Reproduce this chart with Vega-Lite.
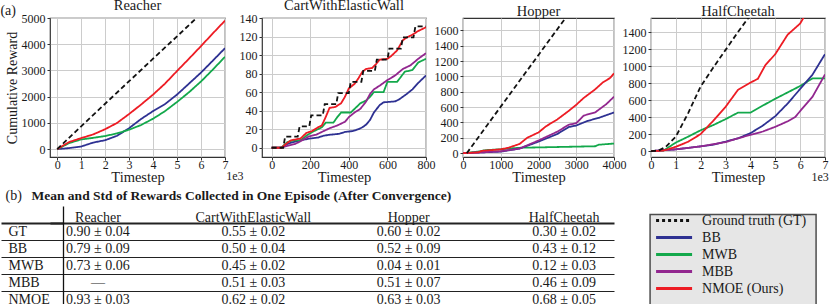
{
  "$schema": "https://vega.github.io/schema/vega-lite/v6.json",
  "padding": {"top": -4, "left": 0, "right": 0, "bottom": 0},
  "background": "white",
  "config": {
    "font": "Liberation Serif",
    "view": {"stroke": "#333333", "strokeWidth": 1.2},
    "axis": {"labelFont": "Liberation Serif", "titleFont": "Liberation Serif", "labelFontSize": 12, "titleFontSize": 14.5, "titleFontWeight": "normal", "labelColor": "#1a1a1a", "titleColor": "#1a1a1a", "gridColor": "#cccccc", "gridWidth": 1, "ticks": true, "tickSize": 3, "tickColor": "#333333", "domain": false, "labelPadding": 2, "titlePadding": 2, "labelOverlap": false, "labelFlush": false},
    "axisX": {"labelPadding": -1, "titlePadding": 0},
    "title": {"font": "Liberation Serif", "fontSize": 14.5, "fontWeight": "normal", "color": "#1a1a1a", "offset": -1, "baseline": "bottom"},
    "text": {"font": "Liberation Serif", "color": "#1a1a1a"}
  },
  "datasets": {
    "reacher": [
      {"t":0,"r":0,"m":"BB"},{"t":0.5,"r":40,"m":"BB"},{"t":1,"r":100,"m":"BB"},{"t":1.5,"r":250,"m":"BB"},{"t":2,"r":340,"m":"BB"},{"t":2.5,"r":510,"m":"BB"},{"t":3,"r":800,"m":"BB"},{"t":3.5,"r":1150,"m":"BB"},{"t":4,"r":1450,"m":"BB"},{"t":4.5,"r":1720,"m":"BB"},{"t":5,"r":2080,"m":"BB"},{"t":5.5,"r":2500,"m":"BB"},{"t":6,"r":2920,"m":"BB"},{"t":6.5,"r":3380,"m":"BB"},{"t":7,"r":3850,"m":"BB"},
      {"t":0,"r":0,"m":"MWB"},{"t":0.5,"r":230,"m":"MWB"},{"t":1,"r":370,"m":"MWB"},{"t":1.5,"r":430,"m":"MWB"},{"t":2,"r":500,"m":"MWB"},{"t":2.5,"r":600,"m":"MWB"},{"t":3,"r":740,"m":"MWB"},{"t":3.5,"r":920,"m":"MWB"},{"t":4,"r":1160,"m":"MWB"},{"t":4.5,"r":1450,"m":"MWB"},{"t":5,"r":1800,"m":"MWB"},{"t":5.5,"r":2170,"m":"MWB"},{"t":6,"r":2580,"m":"MWB"},{"t":6.5,"r":3040,"m":"MWB"},{"t":7,"r":3520,"m":"MWB"},
      {"t":0,"r":0,"m":"NMOE"},{"t":0.5,"r":270,"m":"NMOE"},{"t":1,"r":420,"m":"NMOE"},{"t":1.5,"r":560,"m":"NMOE"},{"t":2,"r":760,"m":"NMOE"},{"t":2.5,"r":1000,"m":"NMOE"},{"t":3,"r":1340,"m":"NMOE"},{"t":3.5,"r":1700,"m":"NMOE"},{"t":4,"r":2080,"m":"NMOE"},{"t":4.5,"r":2500,"m":"NMOE"},{"t":5,"r":2980,"m":"NMOE"},{"t":5.5,"r":3450,"m":"NMOE"},{"t":6,"r":3930,"m":"NMOE"},{"t":6.5,"r":4420,"m":"NMOE"},{"t":7,"r":4900,"m":"NMOE"},
      {"t":0,"r":0,"m":"GT"},{"t":1,"r":870,"m":"GT"},{"t":2,"r":1730,"m":"GT"},{"t":3,"r":2590,"m":"GT"},{"t":4,"r":3450,"m":"GT"},{"t":5,"r":4300,"m":"GT"},{"t":5.75,"r":4950,"m":"GT"}
    ],
    "cart": [
      {"t":0,"r":0,"m":"BB"},{"t":50,"r":0,"m":"BB"},{"t":80,"r":4,"m":"BB"},{"t":110,"r":6,"m":"BB"},{"t":150,"r":8,"m":"BB"},{"t":200,"r":10,"m":"BB"},{"t":240,"r":11,"m":"BB"},{"t":270,"r":13,"m":"BB"},{"t":300,"r":14,"m":"BB"},{"t":350,"r":15,"m":"BB"},{"t":380,"r":17,"m":"BB"},{"t":420,"r":18,"m":"BB"},{"t":450,"r":20,"m":"BB"},{"t":470,"r":22,"m":"BB"},{"t":490,"r":25,"m":"BB"},{"t":510,"r":30,"m":"BB"},{"t":530,"r":38,"m":"BB"},{"t":560,"r":46,"m":"BB"},{"t":580,"r":49,"m":"BB"},{"t":640,"r":50,"m":"BB"},{"t":660,"r":52,"m":"BB"},{"t":680,"r":55,"m":"BB"},{"t":700,"r":58,"m":"BB"},{"t":730,"r":63,"m":"BB"},{"t":760,"r":70,"m":"BB"},{"t":800,"r":78,"m":"BB"},
      {"t":0,"r":0,"m":"MWB"},{"t":50,"r":0,"m":"MWB"},{"t":80,"r":6,"m":"MWB"},{"t":110,"r":8,"m":"MWB"},{"t":150,"r":8,"m":"MWB"},{"t":180,"r":13,"m":"MWB"},{"t":210,"r":17,"m":"MWB"},{"t":240,"r":20,"m":"MWB"},{"t":260,"r":22,"m":"MWB"},{"t":280,"r":27,"m":"MWB"},{"t":320,"r":27,"m":"MWB"},{"t":340,"r":33,"m":"MWB"},{"t":360,"r":38,"m":"MWB"},{"t":410,"r":38,"m":"MWB"},{"t":430,"r":42,"m":"MWB"},{"t":460,"r":48,"m":"MWB"},{"t":490,"r":51,"m":"MWB"},{"t":510,"r":55,"m":"MWB"},{"t":530,"r":60,"m":"MWB"},{"t":580,"r":60,"m":"MWB"},{"t":600,"r":71,"m":"MWB"},{"t":650,"r":71,"m":"MWB"},{"t":690,"r":82,"m":"MWB"},{"t":730,"r":84,"m":"MWB"},{"t":760,"r":92,"m":"MWB"},{"t":800,"r":96,"m":"MWB"},
      {"t":0,"r":0,"m":"MBB"},{"t":50,"r":0,"m":"MBB"},{"t":80,"r":2,"m":"MBB"},{"t":120,"r":4,"m":"MBB"},{"t":150,"r":7,"m":"MBB"},{"t":190,"r":12,"m":"MBB"},{"t":230,"r":14,"m":"MBB"},{"t":260,"r":17,"m":"MBB"},{"t":300,"r":21,"m":"MBB"},{"t":340,"r":24,"m":"MBB"},{"t":380,"r":28,"m":"MBB"},{"t":400,"r":33,"m":"MBB"},{"t":430,"r":38,"m":"MBB"},{"t":460,"r":42,"m":"MBB"},{"t":490,"r":50,"m":"MBB"},{"t":510,"r":58,"m":"MBB"},{"t":530,"r":63,"m":"MBB"},{"t":560,"r":67,"m":"MBB"},{"t":600,"r":73,"m":"MBB"},{"t":640,"r":78,"m":"MBB"},{"t":680,"r":85,"m":"MBB"},{"t":720,"r":89,"m":"MBB"},{"t":760,"r":96,"m":"MBB"},{"t":800,"r":102,"m":"MBB"},
      {"t":0,"r":0,"m":"NMOE"},{"t":50,"r":0,"m":"NMOE"},{"t":80,"r":5,"m":"NMOE"},{"t":100,"r":8,"m":"NMOE"},{"t":150,"r":10,"m":"NMOE"},{"t":180,"r":16,"m":"NMOE"},{"t":210,"r":18,"m":"NMOE"},{"t":240,"r":22,"m":"NMOE"},{"t":260,"r":24,"m":"NMOE"},{"t":280,"r":33,"m":"NMOE"},{"t":300,"r":43,"m":"NMOE"},{"t":330,"r":44,"m":"NMOE"},{"t":360,"r":48,"m":"NMOE"},{"t":380,"r":55,"m":"NMOE"},{"t":400,"r":64,"m":"NMOE"},{"t":430,"r":69,"m":"NMOE"},{"t":450,"r":75,"m":"NMOE"},{"t":470,"r":82,"m":"NMOE"},{"t":490,"r":85,"m":"NMOE"},{"t":520,"r":86,"m":"NMOE"},{"t":540,"r":90,"m":"NMOE"},{"t":560,"r":95,"m":"NMOE"},{"t":600,"r":96,"m":"NMOE"},{"t":620,"r":99,"m":"NMOE"},{"t":650,"r":105,"m":"NMOE"},{"t":680,"r":116,"m":"NMOE"},{"t":700,"r":119,"m":"NMOE"},{"t":730,"r":122,"m":"NMOE"},{"t":760,"r":126,"m":"NMOE"},{"t":800,"r":130,"m":"NMOE"},
      {"t":0,"r":0,"m":"GT"},{"t":60,"r":0,"m":"GT"},{"t":70,"r":12,"m":"GT"},{"t":135,"r":12,"m":"GT"},{"t":145,"r":23,"m":"GT"},{"t":195,"r":23,"m":"GT"},{"t":205,"r":35,"m":"GT"},{"t":265,"r":35,"m":"GT"},{"t":275,"r":47,"m":"GT"},{"t":335,"r":47,"m":"GT"},{"t":345,"r":59,"m":"GT"},{"t":400,"r":59,"m":"GT"},{"t":410,"r":71,"m":"GT"},{"t":465,"r":71,"m":"GT"},{"t":475,"r":83,"m":"GT"},{"t":535,"r":83,"m":"GT"},{"t":545,"r":95,"m":"GT"},{"t":600,"r":95,"m":"GT"},{"t":610,"r":107,"m":"GT"},{"t":670,"r":107,"m":"GT"},{"t":680,"r":119,"m":"GT"},{"t":735,"r":119,"m":"GT"},{"t":745,"r":131,"m":"GT"},{"t":800,"r":131,"m":"GT"}
    ],
    "hopper": [
      {"t":0,"r":0,"m":"MWB"},{"t":400,"r":20,"m":"MWB"},{"t":600,"r":40,"m":"MWB"},{"t":1000,"r":50,"m":"MWB"},{"t":1200,"r":60,"m":"MWB"},{"t":1500,"r":70,"m":"MWB"},{"t":2000,"r":75,"m":"MWB"},{"t":2500,"r":80,"m":"MWB"},{"t":3000,"r":85,"m":"MWB"},{"t":3500,"r":90,"m":"MWB"},{"t":3600,"r":110,"m":"MWB"},{"t":4000,"r":125,"m":"MWB"},
      {"t":0,"r":0,"m":"BB"},{"t":500,"r":10,"m":"BB"},{"t":1000,"r":20,"m":"BB"},{"t":1500,"r":60,"m":"BB"},{"t":2000,"r":150,"m":"BB"},{"t":2500,"r":250,"m":"BB"},{"t":2800,"r":340,"m":"BB"},{"t":3000,"r":360,"m":"BB"},{"t":3300,"r":420,"m":"BB"},{"t":3600,"r":460,"m":"BB"},{"t":4000,"r":530,"m":"BB"},
      {"t":0,"r":0,"m":"MBB"},{"t":500,"r":10,"m":"MBB"},{"t":1000,"r":25,"m":"MBB"},{"t":1500,"r":60,"m":"MBB"},{"t":2000,"r":165,"m":"MBB"},{"t":2500,"r":280,"m":"MBB"},{"t":2800,"r":370,"m":"MBB"},{"t":3000,"r":390,"m":"MBB"},{"t":3200,"r":490,"m":"MBB"},{"t":3500,"r":530,"m":"MBB"},{"t":3800,"r":640,"m":"MBB"},{"t":4000,"r":735,"m":"MBB"},
      {"t":0,"r":0,"m":"NMOE"},{"t":400,"r":10,"m":"NMOE"},{"t":500,"r":30,"m":"NMOE"},{"t":1000,"r":50,"m":"NMOE"},{"t":1200,"r":70,"m":"NMOE"},{"t":1500,"r":120,"m":"NMOE"},{"t":1700,"r":200,"m":"NMOE"},{"t":2000,"r":270,"m":"NMOE"},{"t":2200,"r":350,"m":"NMOE"},{"t":2500,"r":440,"m":"NMOE"},{"t":2800,"r":550,"m":"NMOE"},{"t":3000,"r":630,"m":"NMOE"},{"t":3200,"r":720,"m":"NMOE"},{"t":3500,"r":830,"m":"NMOE"},{"t":3700,"r":920,"m":"NMOE"},{"t":3900,"r":980,"m":"NMOE"},{"t":4000,"r":1040,"m":"NMOE"},
      {"t":100,"r":0,"m":"GT"},{"t":1000,"r":606,"m":"GT"},{"t":2000,"r":1279,"m":"GT"},{"t":2800,"r":1817,"m":"GT"}
    ],
    "cheetah": [
      {"t":0,"r":0,"m":"MWB"},{"t":0.5,"r":5,"m":"MWB"},{"t":1,"r":100,"m":"MWB"},{"t":1.5,"r":170,"m":"MWB"},{"t":2,"r":245,"m":"MWB"},{"t":2.5,"r":305,"m":"MWB"},{"t":3,"r":375,"m":"MWB"},{"t":3.5,"r":452,"m":"MWB"},{"t":4,"r":452,"m":"MWB"},{"t":4.5,"r":535,"m":"MWB"},{"t":5,"r":615,"m":"MWB"},{"t":5.5,"r":690,"m":"MWB"},{"t":6,"r":765,"m":"MWB"},{"t":6.5,"r":855,"m":"MWB"},{"t":7,"r":855,"m":"MWB"},
      {"t":0,"r":0,"m":"BB"},{"t":1,"r":20,"m":"BB"},{"t":2,"r":55,"m":"BB"},{"t":2.5,"r":75,"m":"BB"},{"t":3,"r":110,"m":"BB"},{"t":3.5,"r":150,"m":"BB"},{"t":4,"r":210,"m":"BB"},{"t":4.5,"r":300,"m":"BB"},{"t":5,"r":410,"m":"BB"},{"t":5.5,"r":560,"m":"BB"},{"t":6,"r":730,"m":"BB"},{"t":6.5,"r":900,"m":"BB"},{"t":7,"r":1140,"m":"BB"},
      {"t":0,"r":0,"m":"MBB"},{"t":1,"r":20,"m":"MBB"},{"t":2,"r":55,"m":"MBB"},{"t":3,"r":105,"m":"MBB"},{"t":3.5,"r":150,"m":"MBB"},{"t":4,"r":190,"m":"MBB"},{"t":4.5,"r":230,"m":"MBB"},{"t":5,"r":285,"m":"MBB"},{"t":5.5,"r":350,"m":"MBB"},{"t":5.8,"r":400,"m":"MBB"},{"t":6,"r":470,"m":"MBB"},{"t":6.5,"r":640,"m":"MBB"},{"t":7,"r":900,"m":"MBB"},
      {"t":0,"r":0,"m":"NMOE"},{"t":0.5,"r":5,"m":"NMOE"},{"t":1,"r":50,"m":"NMOE"},{"t":1.5,"r":110,"m":"NMOE"},{"t":2,"r":200,"m":"NMOE"},{"t":2.5,"r":355,"m":"NMOE"},{"t":3,"r":520,"m":"NMOE"},{"t":3.5,"r":720,"m":"NMOE"},{"t":4,"r":805,"m":"NMOE"},{"t":4.3,"r":850,"m":"NMOE"},{"t":4.6,"r":1010,"m":"NMOE"},{"t":5,"r":1140,"m":"NMOE"},{"t":5.5,"r":1370,"m":"NMOE"},{"t":6,"r":1500,"m":"NMOE"},{"t":6.3,"r":1650,"m":"NMOE"},
      {"t":0,"r":0,"m":"GT"},{"t":0.3,"r":5,"m":"GT"},{"t":0.6,"r":50,"m":"GT"},{"t":1,"r":170,"m":"GT"},{"t":1.5,"r":450,"m":"GT"},{"t":2,"r":760,"m":"GT"},{"t":2.5,"r":980,"m":"GT"},{"t":3,"r":1190,"m":"GT"},{"t":3.5,"r":1400,"m":"GT"},{"t":4,"r":1600,"m":"GT"}
    ],
    "table": [
      {"row":"header","col":"Reacher","v":"Reacher"},{"row":"header","col":"CartWithElasticWall","v":"CartWithElasticWall"},{"row":"header","col":"Hopper","v":"Hopper"},{"row":"header","col":"HalfCheetah","v":"HalfCheetah"},
      {"row":"GT","col":"Reacher","v":"0.90 ± 0.04"},{"row":"GT","col":"CartWithElasticWall","v":"0.55 ± 0.02"},{"row":"GT","col":"Hopper","v":"0.60 ± 0.02"},{"row":"GT","col":"HalfCheetah","v":"0.30 ± 0.02"},
      {"row":"BB","col":"Reacher","v":"0.79 ± 0.09"},{"row":"BB","col":"CartWithElasticWall","v":"0.50 ± 0.04"},{"row":"BB","col":"Hopper","v":"0.52 ± 0.09"},{"row":"BB","col":"HalfCheetah","v":"0.43 ± 0.12"},
      {"row":"MWB","col":"Reacher","v":"0.73 ± 0.06"},{"row":"MWB","col":"CartWithElasticWall","v":"0.45 ± 0.02"},{"row":"MWB","col":"Hopper","v":"0.04 ± 0.01"},{"row":"MWB","col":"HalfCheetah","v":"0.12 ± 0.03"},
      {"row":"MBB","col":"Reacher","v":"—"},{"row":"MBB","col":"CartWithElasticWall","v":"0.51 ± 0.03"},{"row":"MBB","col":"Hopper","v":"0.51 ± 0.07"},{"row":"MBB","col":"HalfCheetah","v":"0.46 ± 0.09"},
      {"row":"NMOE","col":"Reacher","v":"0.93 ± 0.03"},{"row":"NMOE","col":"CartWithElasticWall","v":"0.62 ± 0.02"},{"row":"NMOE","col":"Hopper","v":"0.63 ± 0.03"},{"row":"NMOE","col":"HalfCheetah","v":"0.68 ± 0.05"}
    ],
    "legend": [
      {"row":"GT","label":"Ground truth (GT)"},{"row":"BB","label":"BB"},{"row":"MWB","label":"MWB"},{"row":"MBB","label":"MBB"},{"row":"NMOE","label":"NMOE (Ours)"}
    ],
    "legendbox": [{"top":"header","bottom":"NMOE","col":"HalfCheetah"}]
  },
  "vconcat": [
    {
      "title": {"text": "(a)", "anchor": "start", "frame": "bounds", "orient": "top", "offset": -21, "dx": -4, "fontSize": 14},
      "hconcat": [
        {
          "width": 175, "height": 139,
          "title": "Reacher",
          "layer": [
            {
              "data": {"name": "reacher"},
              "mark": {"type": "line", "strokeWidth": 1.8, "clip": true},
              "encoding": {
                "x": {"field": "t", "type": "quantitative", "scale": {"domain": [-0.3, 7], "nice": false, "zero": false}, "axis": {"values": [0,1,2,3,4,5,6,7], "format": "d", "title": "Timestep", "labelOverlap": false}},
                "y": {"field": "r", "type": "quantitative", "scale": {"domain": [-300, 5000], "nice": false, "zero": false}, "axis": {"values": [0,1000,2000,3000,4000,5000], "format": "d", "title": "Cumulative Reward", "titlePadding": 2, "titleFontSize": 14, "labelOverlap": false}},
                "color": {"field": "m", "type": "nominal", "scale": {"domain": ["GT","BB","MWB","MBB","NMOE"], "range": ["#111111","#2e3192","#13a84b","#92278f","#ed1c24"]}, "legend": null},
                "strokeDash": {"field": "m", "type": "nominal", "scale": {"domain": ["GT","BB","MWB","MBB","NMOE"], "range": [[5,3],[1,0],[1,0],[1,0],[1,0]]}, "legend": null}
              }
            },
            {
              "data": {"values": [{"label": "1e3"}]},
              "mark": {"type": "text", "fontSize": 12, "align": "left", "baseline": "middle"},
              "encoding": {
                "x": {"datum": 7.05, "type": "quantitative", "scale": {"domain": [-0.3, 7], "nice": false, "zero": false}, "axis": {"values": [0,1,2,3,4,5,6,7], "format": "d", "title": "Timestep", "labelOverlap": false}},
                "y": {"datum": -1030, "type": "quantitative", "scale": {"domain": [-300, 5000], "nice": false, "zero": false}, "axis": {"values": [0,1000,2000,3000,4000,5000], "format": "d", "title": "Cumulative Reward", "titlePadding": 2, "titleFontSize": 14, "labelOverlap": false}},
                "text": {"field": "label"}
              }
            }
          ]
        },
        {
          "width": 164, "height": 139,
          "title": "CartWithElasticWall",
          "data": {"name": "cart"},
          "mark": {"type": "line", "strokeWidth": 1.8, "clip": true},
          "encoding": {
            "x": {"field": "t", "type": "quantitative", "scale": {"domain": [-50, 800], "nice": false, "zero": false}, "axis": {"values": [0,200,400,600,800], "format": "d", "title": "Timestep"}},
            "y": {"field": "r", "type": "quantitative", "scale": {"domain": [-10, 140], "nice": false, "zero": false}, "axis": {"values": [0,20,40,60,80,100,120,140], "format": "d", "title": null}},
            "color": {"field": "m", "type": "nominal", "scale": {"domain": ["GT","BB","MWB","MBB","NMOE"], "range": ["#111111","#2e3192","#13a84b","#92278f","#ed1c24"]}, "legend": null},
            "strokeDash": {"field": "m", "type": "nominal", "scale": {"domain": ["GT","BB","MWB","MBB","NMOE"], "range": [[5,3],[1,0],[1,0],[1,0],[1,0]]}, "legend": null}
          }
        },
        {
          "width": 151, "height": 139,
          "title": "Hopper",
          "data": {"name": "hopper"},
          "mark": {"type": "line", "strokeWidth": 1.8, "clip": true},
          "encoding": {
            "x": {"field": "t", "type": "quantitative", "scale": {"domain": [0, 4000], "nice": false, "zero": false}, "axis": {"values": [0,1000,2000,3000,4000], "format": "d", "title": "Timestep"}},
            "y": {"field": "r", "type": "quantitative", "scale": {"domain": [-50, 1760], "nice": false, "zero": false}, "axis": {"values": [0,200,400,600,800,1000,1200,1400,1600], "format": "d", "title": null}},
            "color": {"field": "m", "type": "nominal", "scale": {"domain": ["GT","BB","MWB","MBB","NMOE"], "range": ["#111111","#2e3192","#13a84b","#92278f","#ed1c24"]}, "legend": null},
            "strokeDash": {"field": "m", "type": "nominal", "scale": {"domain": ["GT","BB","MWB","MBB","NMOE"], "range": [[5,3],[1,0],[1,0],[1,0],[1,0]]}, "legend": null}
          }
        },
        {
          "width": 174, "height": 139,
          "title": "HalfCheetah",
          "layer": [
            {
              "data": {"name": "cheetah"},
              "mark": {"type": "line", "strokeWidth": 1.8, "clip": true},
              "encoding": {
                "x": {"field": "t", "type": "quantitative", "scale": {"domain": [0, 7], "nice": false, "zero": false}, "axis": {"values": [0,1,2,3,4,5,6,7], "format": "d", "title": "Timestep", "labelOverlap": false}},
                "y": {"field": "r", "type": "quantitative", "scale": {"domain": [-70, 1565], "nice": false, "zero": false}, "axis": {"values": [0,200,400,600,800,1000,1200,1400], "format": "d", "title": null, "labelOverlap": false}},
                "color": {"field": "m", "type": "nominal", "scale": {"domain": ["GT","BB","MWB","MBB","NMOE"], "range": ["#111111","#2e3192","#13a84b","#92278f","#ed1c24"]}, "legend": null},
                "strokeDash": {"field": "m", "type": "nominal", "scale": {"domain": ["GT","BB","MWB","MBB","NMOE"], "range": [[5,3],[1,0],[1,0],[1,0],[1,0]]}, "legend": null}
              }
            },
            {
              "data": {"values": [{"label": "1e3"}]},
              "mark": {"type": "text", "fontSize": 12, "align": "right", "baseline": "middle"},
              "encoding": {
                "x": {"datum": 7.15, "type": "quantitative", "scale": {"domain": [0, 7], "nice": false, "zero": false}, "axis": {"values": [0,1,2,3,4,5,6,7], "format": "d", "title": "Timestep", "labelOverlap": false}},
                "y": {"datum": -300, "type": "quantitative", "scale": {"domain": [-70, 1565], "nice": false, "zero": false}, "axis": {"values": [0,200,400,600,800,1000,1200,1400], "format": "d", "title": null, "labelOverlap": false}},
                "text": {"field": "label"}
              }
            }
          ]
        }
      ],
      "bounds": "flush",
      "spacing": 37,
      "resolve": {"scale": {"x": "independent", "y": "independent", "color": "independent", "strokeDash": "independent"}}
    },
    {
      "width": 564, "height": 102,
      "view": {"stroke": null},
      "encoding": {
        "x": {"field": "col", "type": "nominal", "scale": {"type": "point", "domain": ["Reacher","CartWithElasticWall","Hopper","HalfCheetah"], "padding": 0.315, "align": 0.49},
          "axis": {"orient": "top", "labels": false, "ticks": false, "domain": false, "grid": false, "title": "Mean and Std of Rewards Collected in One Episode (After Convergence)", "titleFontWeight": "bold", "titleFontSize": 13.5, "titleX": -19, "titleY": -11, "titleAlign": "left", "titleBaseline": "middle", "titleAnchor": "start"}},
        "y": {"field": "row", "type": "nominal", "scale": {"type": "band", "domain": ["header","GT","BB","MWB","MBB","NMOE"], "paddingInner": 0, "paddingOuter": 0},
          "axis": {"orient": "left", "offset": -13, "domain": true, "domainColor": "#111111", "domainWidth": 1.3, "ticks": true, "tickSize": 62, "bandPosition": 0,
            "tickColor": {"condition": {"test": "datum.value === 'header'", "value": "transparent"}, "value": "#222222"},
            "tickWidth": {"condition": {"test": "datum.value === 'GT'", "value": 2}, "value": 1},
            "grid": true,
            "gridColor": {"condition": {"test": "datum.value === 'header'", "value": "transparent"}, "value": "#222222"},
            "gridWidth": {"condition": {"test": "datum.value === 'GT'", "value": 2}, "value": 1},
            "labelAlign": "left", "labelBaseline": "middle", "labelPadding": -7, "labelFontSize": 14, "labelColor": "#1a1a1a",
            "labelExpr": "datum.value === 'header' ? '' : datum.value",
            "title": "(b)", "titleAngle": 0, "titleX": -58, "titleY": -11, "titleAlign": "left", "titleBaseline": "middle", "titleFontSize": 14, "titlePadding": 0}}
      },
      "layer": [
        {
          "data": {"name": "table"},
          "transform": [{"filter": "datum.row !== 'header'"}],
          "mark": {"type": "text", "fontSize": 14, "baseline": "middle"},
          "encoding": {"text": {"field": "v"}}
        },
        {
          "data": {"name": "table"},
          "transform": [{"filter": "datum.row === 'header'"}],
          "mark": {"type": "text", "fontSize": 14, "baseline": "middle", "dy": 3.5},
          "encoding": {"text": {"field": "v"}}
        },
        {
          "data": {"name": "legendbox"},
          "mark": {"type": "rect", "fill": "#e6e6e6", "stroke": "#4d4d4d", "strokeWidth": 1.5, "xOffset": 86, "x2Offset": 252, "yOffset": 0, "y2Offset": 11},
          "encoding": {
            "y": {"field": "top"},
            "y2": {"field": "bottom"},
            "x2": {"field": "col"}
          }
        },
        {
          "data": {"name": "legend"},
          "transform": [{"calculate": "'HalfCheetah'", "as": "col"}],
          "mark": {"type": "rule", "strokeWidth": 3, "xOffset": 92, "x2Offset": 128, "yOffset": -11, "y2Offset": -11},
          "encoding": {
            "x2": {"field": "col"},
            "color": {"field": "row", "type": "nominal", "scale": {"domain": ["GT","BB","MWB","MBB","NMOE"], "range": ["#111111","#2e3192","#13a84b","#92278f","#ed1c24"]}, "legend": null},
            "strokeDash": {"field": "row", "type": "nominal", "scale": {"domain": ["GT","BB","MWB","MBB","NMOE"], "range": [[3,3],[1,0],[1,0],[1,0],[1,0]]}, "legend": null}
          }
        },
        {
          "data": {"name": "legend"},
          "transform": [{"calculate": "'HalfCheetah'", "as": "col"}],
          "mark": {"type": "text", "fontSize": 14, "align": "left", "baseline": "middle", "dx": 138, "dy": -11},
          "encoding": {"text": {"field": "label"}}
        }
      ]
    }
  ],
  "bounds": "full",
  "spacing": 3,
  "resolve": {"scale": {"x": "independent", "y": "independent", "color": "independent", "strokeDash": "independent"}}
}
